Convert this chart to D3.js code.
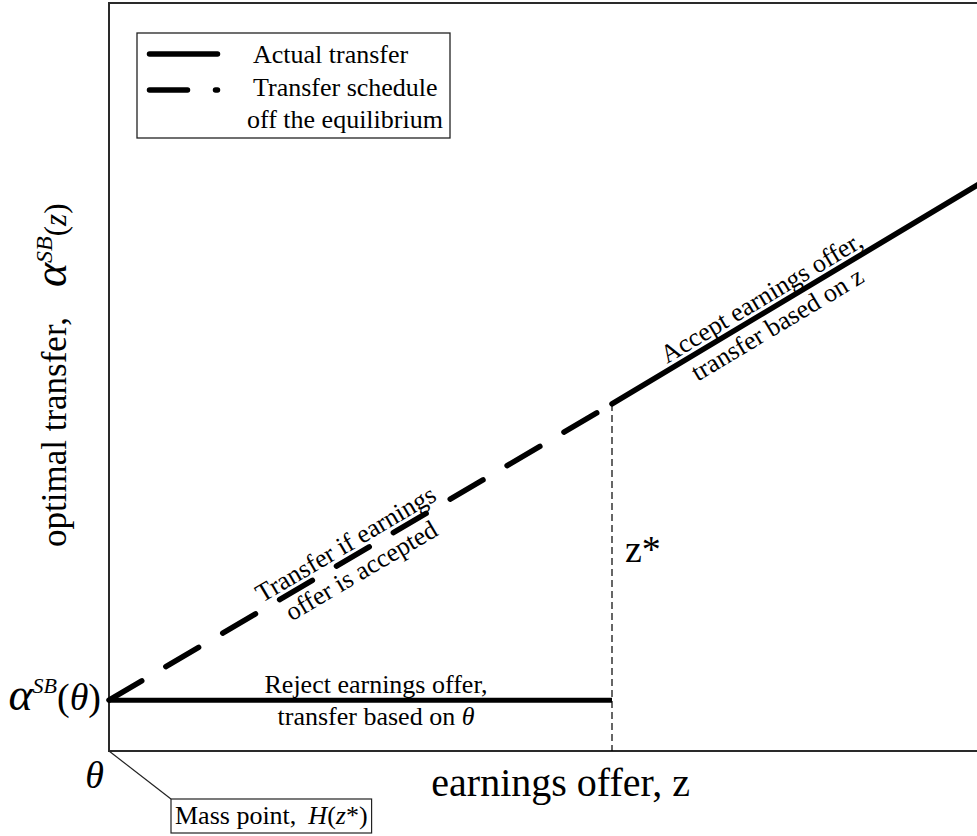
<!DOCTYPE html>
<html>
<head>
<meta charset="utf-8">
<script src="https://cdn.jsdelivr.net/npm/d3@7"></script>
<style>
  html, body { margin: 0; padding: 0; background: #fff; }
  svg { display: block; }
  text { font-family: "Liberation Serif", "Times New Roman", serif; fill: #000; }
</style>
</head>
<body>
<svg id="chart" width="977" height="836"></svg>
<script>
// ---- data (conceptual units) ----
const zDomain = [0, 1];            // theta .. z*
const tDomain = [0, 1];
const zStar = 1;
const alphaTheta = 0.068;          // transfer based on theta
const rejectZ = [0, 1];
const rejectT = [0.068, 0.068];
const offEqZ = [0, 1];
const offEqT = [0.068, 0.464];
const acceptZ = [1, 1.73];
const acceptT = [0.464, 0.758];
const legendLabels = ["Actual transfer", "Transfer schedule", "off the equilibrium"];
const rejectLabel = ["Reject earnings offer,", "transfer based on "];
const offEqLabel = ["Transfer if earnings", "offer is accepted"];
const acceptLabel = ["Accept earnings offer,", "transfer based on z"];
const offEqLabelZ = 0.485;
const acceptLabelZ = 1.312;

const svg = d3.select("#chart");
const mLeft = 109, mBottom = 751, mTop = 3, mRight = 1115;
const x = d3.scaleLinear().domain(zDomain).range([mLeft, 612]);
const y = d3.scaleLinear().domain(tDomain).range([mBottom, mTop]);
const line = d3.line().x(d => x(d[0])).y(d => y(d[1]));

// frame (axes)
const frame = svg.append("g").attr("stroke", "#2a2a2a").attr("stroke-width", 2).attr("fill", "none");
frame.append("path").attr("d", `M${mRight},${mTop}H${mLeft}V${mBottom}H${mRight}`);

// z* vertical dashed guide
svg.append("line")
  .attr("x1", x(zStar)).attr("x2", x(zStar))
  .attr("y1", y(offEqT[1])).attr("y2", mBottom)
  .attr("stroke", "#000").attr("stroke-width", 1.2)
  .attr("stroke-dasharray", "7,4");

// off-equilibrium dashed schedule
svg.append("path")
  .attr("d", line(d3.zip(offEqZ, offEqT)))
  .attr("fill", "none").attr("stroke", "#000").attr("stroke-width", 5.5)
  .attr("stroke-linecap", "round").attr("stroke-dasharray", "38,28");

// actual transfer: reject segment
svg.append("path")
  .attr("d", line(d3.zip(rejectZ, rejectT)))
  .attr("fill", "none").attr("stroke", "#000").attr("stroke-width", 5);

// actual transfer: accept segment
svg.append("path")
  .attr("d", line(d3.zip(acceptZ, acceptT)))
  .attr("fill", "none").attr("stroke", "#000").attr("stroke-width", 5.5)
  .attr("stroke-linecap", "round");

// ---- legend ----
const lg = svg.append("g");
lg.append("rect").attr("x", 137).attr("y", 33).attr("width", 313).attr("height", 105)
  .attr("fill", "#fff").attr("stroke", "#222").attr("stroke-width", 1.3);
lg.append("line").attr("x1", 149.5).attr("x2", 217.5).attr("y1", 54).attr("y2", 54)
  .attr("stroke", "#000").attr("stroke-width", 5.5).attr("stroke-linecap", "round");
lg.append("line").attr("x1", 149.5).attr("x2", 217.5).attr("y1", 90).attr("y2", 90)
  .attr("stroke", "#000").attr("stroke-width", 5.5).attr("stroke-linecap", "round")
  .attr("stroke-dasharray", "38,28");
lg.append("text").attr("x", 253).attr("y", 63).attr("font-size", 26).text(legendLabels[0]);
lg.append("text").attr("x", 253).attr("y", 96).attr("font-size", 26).text(legendLabels[1]);
lg.append("text").attr("x", 247).attr("y", 128).attr("font-size", 26).text(legendLabels[2]);

// ---- reject label ----
const rl = svg.append("g").attr("font-size", 26).attr("text-anchor", "middle");
rl.append("text").attr("x", 376).attr("y", 693).text(rejectLabel[0]);
const rl2 = rl.append("text").attr("x", 376).attr("y", 725);
rl2.append("tspan").text(rejectLabel[1]);
rl2.append("tspan").attr("font-style", "italic").text("θ");

// ---- rotated labels along lines ----
function slantLabel(zs, ts, zc, lines) {
  const x0 = x(zs[0]), y0 = y(ts[0]), x1 = x(zs[1]), y1 = y(ts[1]);
  const ang = Math.atan2(y1 - y0, x1 - x0) * 180 / Math.PI;
  const f = (zc - zs[0]) / (zs[1] - zs[0]);
  const cx = x0 + f * (x1 - x0), cy = y0 + f * (y1 - y0);
  const g = svg.append("g").attr("transform", `translate(${cx},${cy}) rotate(${ang})`)
    .attr("font-size", 26).attr("text-anchor", "middle");
  g.append("text").attr("x", 0).attr("y", -6).text(lines[0]);
  g.append("text").attr("x", 0).attr("y", 25).text(lines[1]);
}
slantLabel(offEqZ, offEqT, offEqLabelZ, offEqLabel);
slantLabel(acceptZ, acceptT, acceptLabelZ, acceptLabel);

// z* label
svg.append("text").attr("x", 625).attr("y", 562).attr("font-size", 38).text("z*");

// x axis label
svg.append("text").attr("x", 690).attr("y", 796).attr("font-size", 40)
  .attr("text-anchor", "end").text("earnings offer, z");

// y axis label (rotated)
const yl = svg.append("text").attr("transform", "translate(66,547) rotate(-90)")
  .attr("font-size", 35).attr("text-anchor", "start");
yl.append("tspan").text("optimal transfer,");
yl.append("tspan").attr("dx", 30).attr("font-style", "italic").attr("font-size", 46).text("α");
yl.append("tspan").attr("dy", -14).attr("font-size", 24).attr("font-style", "italic").text("SB");
yl.append("tspan").attr("dy", 14).attr("font-size", 31).text("(");
yl.append("tspan").attr("font-size", 31).attr("font-style", "italic").text("z");
yl.append("tspan").attr("font-size", 31).text(")");

// alpha(theta) label on the y axis
const al = svg.append("text").attr("x", 101).attr("y", 710).attr("font-size", 38)
  .attr("text-anchor", "end");
al.append("tspan").attr("font-style", "italic").attr("font-size", 46).text("α");
al.append("tspan").attr("dy", -17).attr("font-size", 22).attr("font-style", "italic").text("SB");
al.append("tspan").attr("dy", 17).text("(");
al.append("tspan").attr("font-style", "italic").text("θ");
al.append("tspan").text(")");

// theta at origin
svg.append("text").attr("x", 104).attr("y", 788).attr("font-size", 38)
  .attr("font-style", "italic").attr("text-anchor", "end").text("θ");

// mass point callout
svg.append("line").attr("x1", mLeft).attr("y1", mBottom).attr("x2", 171).attr("y2", 799)
  .attr("stroke", "#222").attr("stroke-width", 1.2);
const mp = svg.append("g");
const mpRect = mp.append("rect").attr("x", 171).attr("y", 799).attr("height", 34)
  .attr("fill", "#fff").attr("stroke", "#222").attr("stroke-width", 1.2);
const mpText = mp.append("text").attr("x", 175).attr("y", 824).attr("font-size", 26);
mpText.append("tspan").text("Mass point,");
mpText.append("tspan").attr("dx", 12).attr("font-style", "italic").text("H");
mpText.append("tspan").text("(");
mpText.append("tspan").attr("font-style", "italic").text("z");
mpText.append("tspan").text("*)");
const bb = mpText.node().getBBox();
mpRect.attr("width", bb.x + bb.width - 171 + 4);
</script>
</body>
</html>
